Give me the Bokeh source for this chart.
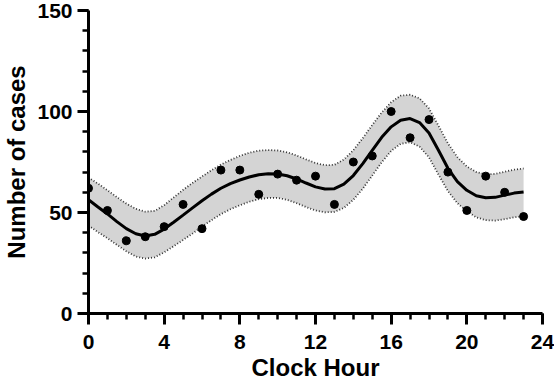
from bokeh.plotting import figure
from bokeh.models import Range1d, SingleIntervalTicker
from bokeh.embed import file_html
from bokeh.resources import INLINE

# observed counts per clock hour
hours = list(range(24))
cases = [62, 51, 36, 38, 43, 54, 42, 71, 71, 59, 69, 66, 68, 54,
         75, 78, 100, 87, 96, 70, 51, 68, 60, 48]

# fitted curve and confidence band read at half-hour steps
fit_hours = [i * 0.5 for i in range(47)]
fit = [56.3, 52.7, 49.3, 45.5, 42.0, 39.5, 38.4, 39.2, 41.8, 45.2,
       48.7, 52.3, 55.8, 59.1, 62.0, 64.3, 66.1, 67.6, 68.7, 69.2,
       69.1, 68.2, 66.6, 64.6, 62.7, 61.6, 61.8, 64.0, 68.3, 74.2,
       80.8, 87.2, 92.4, 95.7, 96.5, 94.5, 89.4, 80.8, 71.9, 65.3,
       61.0, 58.3, 57.3, 57.5, 58.6, 59.6, 60.1]
fit_lo = [43.5, 40.3, 37.3, 34.0, 30.8, 28.2, 27.2, 27.8, 30.3, 33.3,
          36.4, 39.6, 43.0, 46.2, 49.2, 51.6, 53.6, 55.3, 56.6, 57.2,
          57.2, 56.3, 54.6, 52.7, 51.0, 50.1, 50.3, 52.3, 56.3, 61.8,
          68.3, 74.9, 80.5, 84.0, 84.8, 82.6, 77.3, 68.8, 60.6, 54.6,
          50.6, 47.6, 46.2, 46.0, 46.7, 47.6, 48.2]
fit_hi = [67.3, 64.3, 61.0, 57.6, 54.4, 51.8, 50.4, 50.8, 53.6, 57.4,
          61.2, 64.6, 67.8, 70.9, 73.7, 76.0, 78.0, 79.6, 80.6, 80.9,
          80.7, 79.8, 78.2, 76.3, 74.5, 73.4, 73.6, 76.2, 80.8, 86.8,
          93.3, 99.5, 104.6, 107.8, 108.3, 106.5, 101.5, 93.0, 84.2, 77.4,
          72.8, 70.0, 68.9, 69.1, 70.2, 71.2, 71.8]

x_label = "Clock Hour"
y_label = "Number of cases"

FONT = "Liberation Sans"

p = figure(width=554, height=383, output_backend="svg", toolbar_location=None,
           x_range=Range1d(0, 24), y_range=Range1d(0, 150),
           min_border_left=88, min_border_right=12, min_border_top=10,
           min_border_bottom=70)
p.outline_line_color = None
p.xgrid.visible = False
p.ygrid.visible = False
p.background_fill_color = "white"
p.border_fill_color = "white"

p.varea(x=fit_hours, y1=fit_lo, y2=fit_hi, fill_color="#d4d4d4")
p.line(fit_hours, fit_lo, line_color="#333333", line_width=1.8, line_dash="1 2")
p.line(fit_hours, fit_hi, line_color="#333333", line_width=1.8, line_dash="1 2")
p.line(fit_hours, fit, line_color="black", line_width=3)
p.scatter(hours, cases, size=8, color="black")

p.xaxis.ticker = SingleIntervalTicker(interval=4, num_minor_ticks=4)
p.yaxis.ticker = SingleIntervalTicker(interval=50, num_minor_ticks=5)

for ax in (p.xaxis, p.yaxis):
    ax.axis_line_width = 3
    ax.axis_line_color = "black"
    ax.major_tick_line_width = 3
    ax.minor_tick_line_width = 2.5
    ax.major_tick_line_color = "black"
    ax.minor_tick_line_color = "black"
    ax.major_tick_in = 0
    ax.minor_tick_in = 0
    ax.major_tick_out = 11
    ax.minor_tick_out = 6
    ax.major_label_text_font = FONT
    ax.major_label_text_font_style = "bold"
    ax.major_label_text_font_size = "21px"
    ax.major_label_text_color = "black"
    ax.axis_label_text_font = FONT
    ax.axis_label_text_font_style = "bold"
    ax.axis_label_text_font_size = "24px"
    ax.axis_label_text_color = "black"

p.xaxis.axis_label = x_label
p.yaxis.axis_label = y_label
p.xaxis.major_label_standoff = 10
p.yaxis.major_label_standoff = 5
p.xaxis.axis_label_standoff = 2
p.yaxis.axis_label_standoff = 4

open("out.html", "w").write(file_html(p, INLINE))
